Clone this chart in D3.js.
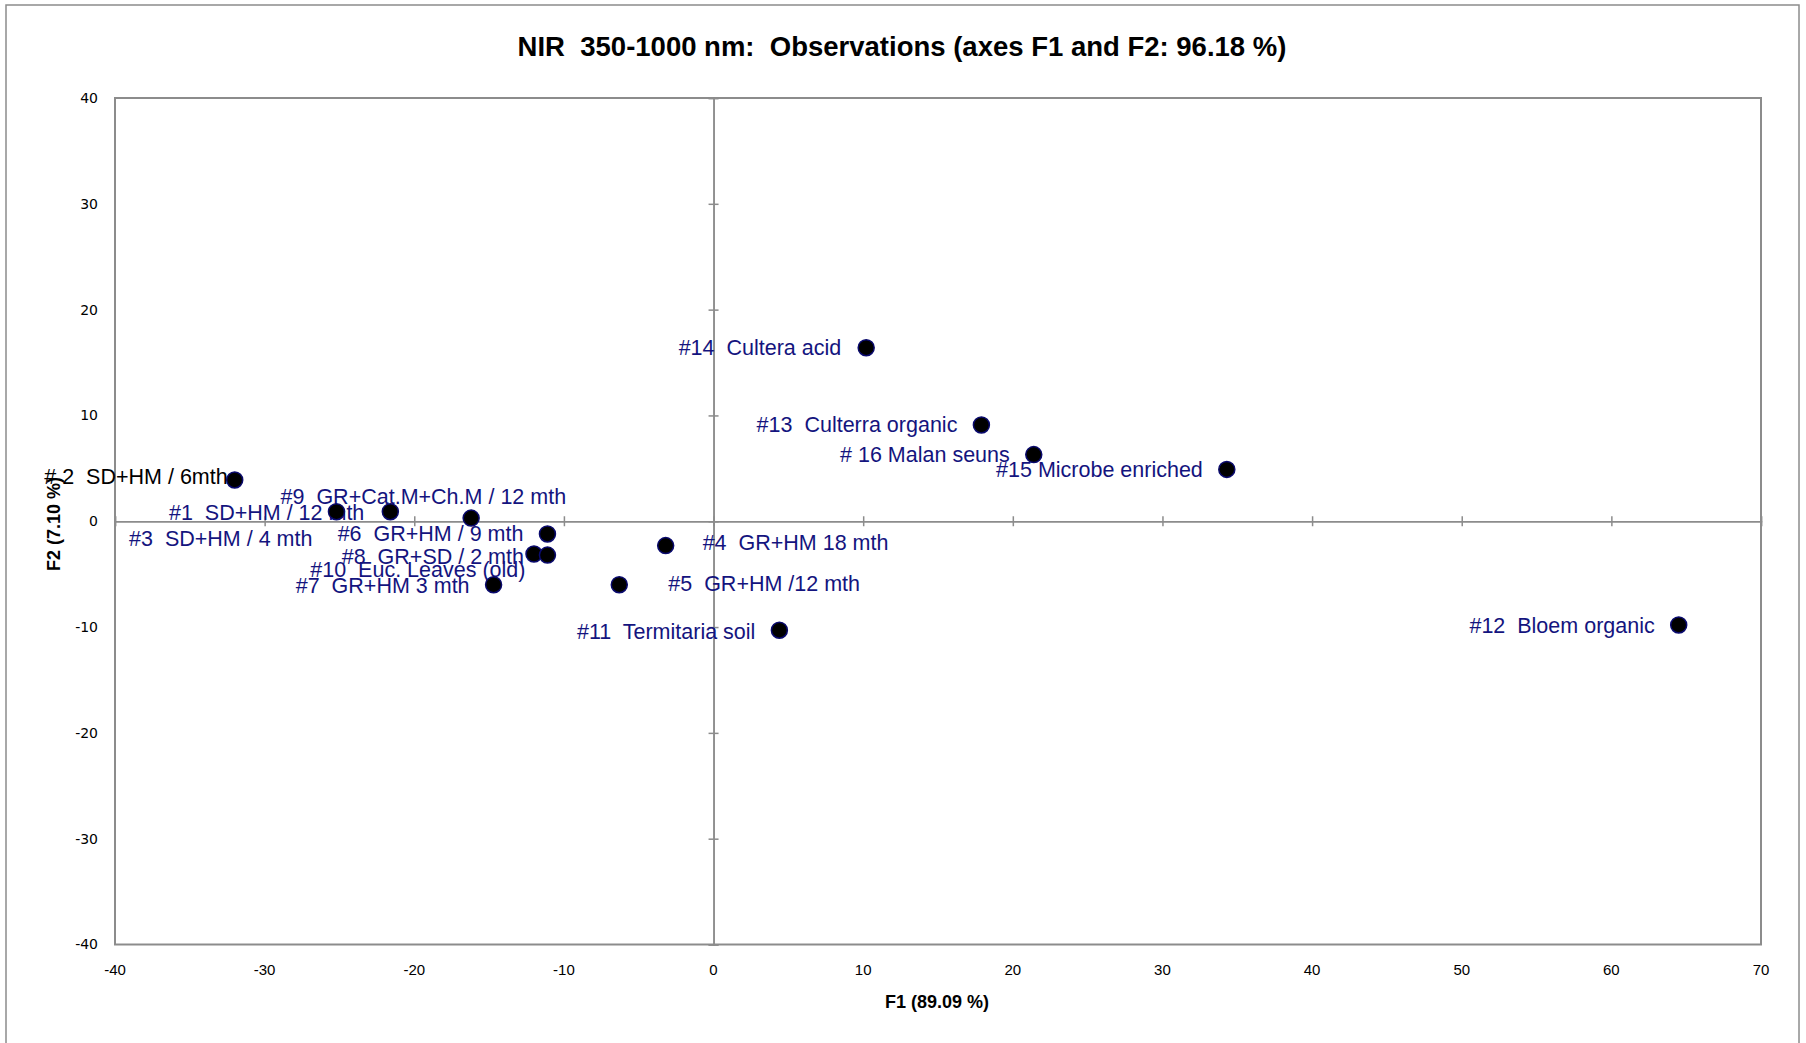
<!DOCTYPE html>
<html><head><meta charset="utf-8">
<script src="https://cdn.jsdelivr.net/npm/d3@7"></script>
<style>
html,body{margin:0;padding:0;background:#fff;}
text{white-space:pre;}
</style></head>
<body>
<script>
// ---- data ----
const obsLabels = ["# 2  SD+HM / 6mth", "#3  SD+HM / 4 mth", "#1  SD+HM / 12 mth", "#9  GR+Cat.M+Ch.M / 12 mth",
  "#6  GR+HM / 9 mth", "#8  GR+SD / 2 mth", "#10  Euc. Leaves (old)", "#7  GR+HM 3 mth", "#5  GR+HM /12 mth",
  "#4  GR+HM 18 mth", "#11  Termitaria soil", "#14  Cultera acid", "#13  Culterra organic", "# 16 Malan seuns",
  "#15 Microbe enriched", "#12  Bloem organic"];
const f1Values = [-32.0, -25.2, -21.6, -16.2, -11.1, -12.0, -11.1, -14.7, -6.3, -3.2, 4.4, 10.2, 17.9, 21.4, 34.3, 64.5];
const f2Values = [3.9, 0.9, 0.9, 0.3, -1.2, -3.1, -3.2, -6.0, -6.0, -2.3, -10.3, 16.4, 9.1, 6.3, 4.9, -9.8];
const xTicks = [-40, -30, -20, -10, 0, 10, 20, 30, 40, 50, 60, 70];
const yTicks = [-40, -30, -20, -10, 0, 10, 20, 30, 40];
const chartTitle = "NIR  350-1000 nm:  Observations (axes F1 and F2: 96.18 %)";
const xTitle = "F1 (89.09 %)";
const yTitle = "F2 (7.10 %)";

// label placement (layout only, pixels relative to point)
const labelPlacement = [
  {a:"end", dx:-7, dy:-4, c:"#000"}, {a:"end", dx:-24, dy:27}, {a:"end", dx:-26, dy:1}, {a:"end", dx:95, dy:-22},
  {a:"end", dx:-24, dy:0}, {a:"end", dx:-10, dy:2}, {a:"end", dx:-22, dy:14}, {a:"end", dx:-24, dy:1},
  {a:"start", dx:49, dy:-1}, {a:"start", dx:37, dy:-3}, {a:"end", dx:-24, dy:1}, {a:"end", dx:-25, dy:0},
  {a:"end", dx:-24, dy:0}, {a:"end", dx:-24, dy:0}, {a:"end", dx:-24, dy:0}, {a:"end", dx:-24, dy:1}
];

const W = 1806, H = 1043;
const plot = {l:115, r:1761, t:98, b:944.5};
const svg = d3.select("body").append("svg").attr("width", W).attr("height", H);

// outer frame
svg.append("rect").attr("x",6).attr("y",5).attr("width",1793).attr("height",1045)
  .attr("fill","#fff").attr("stroke","#8c8c8c").attr("stroke-width",1.5);

const x = d3.scaleLinear().domain([-40,70]).range([plot.l, plot.r]);
const y = d3.scaleLinear().domain([-40,40]).range([plot.b, plot.t]);

const gridCol = "#8c8c8c";
// plot border
svg.append("rect").attr("x",plot.l).attr("y",plot.t).attr("width",plot.r-plot.l).attr("height",plot.b-plot.t)
  .attr("fill","none").attr("stroke",gridCol).attr("stroke-width",2);

// zero axes with crossing ticks via d3 axes
const xAxisG = svg.append("g").attr("transform",`translate(0,${y(0)})`)
  .call(d3.axisBottom(x).tickValues(xTicks).tickSize(5).tickFormat(""));
const xAxisG2 = svg.append("g").attr("transform",`translate(0,${y(0)})`)
  .call(d3.axisTop(x).tickValues(xTicks).tickSize(5).tickFormat(""));
const yAxisG = svg.append("g").attr("transform",`translate(${x(0)},0)`)
  .call(d3.axisLeft(y).tickValues(yTicks).tickSize(5).tickFormat(""));
const yAxisG2 = svg.append("g").attr("transform",`translate(${x(0)},0)`)
  .call(d3.axisRight(y).tickValues(yTicks).tickSize(5).tickFormat(""));
[xAxisG,xAxisG2,yAxisG,yAxisG2].forEach(g=>{
  g.selectAll("path,line").attr("stroke",gridCol).attr("stroke-width",1.5);
});

// tick labels
svg.append("g").selectAll("text").data(xTicks).join("text")
  .attr("x", d=>x(d)).attr("y", plot.b+30).attr("text-anchor","middle")
  .attr("font-family","Liberation Sans, Arial, sans-serif").attr("font-size",15).attr("fill","#000")
  .text(d=>d);
svg.append("g").selectAll("text").data(yTicks).join("text")
  .attr("x", plot.l-17).attr("y", d=>y(d)).attr("dy","0.35em").attr("text-anchor","end")
  .attr("font-family","DejaVu Sans, Verdana, sans-serif").attr("font-size",14).attr("fill","#000")
  .text(d=>d);

// titles
svg.append("text").attr("x",902).attr("y",56).attr("text-anchor","middle")
  .attr("font-family","Liberation Sans, Arial, sans-serif").attr("font-weight","bold").attr("font-size",27.5)
  .text(chartTitle);
svg.append("text").attr("x",937).attr("y",1008).attr("text-anchor","middle")
  .attr("font-family","Liberation Sans, Arial, sans-serif").attr("font-weight","bold").attr("font-size",18)
  .text(xTitle);
svg.append("text").attr("transform","translate(60,524) rotate(-90)").attr("text-anchor","middle")
  .attr("font-family","Liberation Sans, Arial, sans-serif").attr("font-weight","bold").attr("font-size",18)
  .text(yTitle);

const pts = f1Values.map((v,i)=>({x:v, y:f2Values[i], label:obsLabels[i], p:labelPlacement[i]}));

// labels
svg.append("g").selectAll("text").data(pts).join("text")
  .attr("x", d=>x(d.x)+d.p.dx).attr("y", d=>y(d.y)+d.p.dy).attr("dy","0.35em")
  .attr("text-anchor", d=>d.p.a)
  .attr("font-family","Liberation Sans, Arial, sans-serif").attr("font-size",21.5)
  .attr("fill", d=>d.p.c || "#14147e")
  .text(d=>d.label);

// markers
svg.append("g").selectAll("circle").data(pts).join("circle")
  .attr("cx", d=>x(d.x)).attr("cy", d=>y(d.y)).attr("r",8)
  .attr("fill","#000").attr("stroke","#0a0a6e").attr("stroke-width",1.5);
</script>
</body></html>
